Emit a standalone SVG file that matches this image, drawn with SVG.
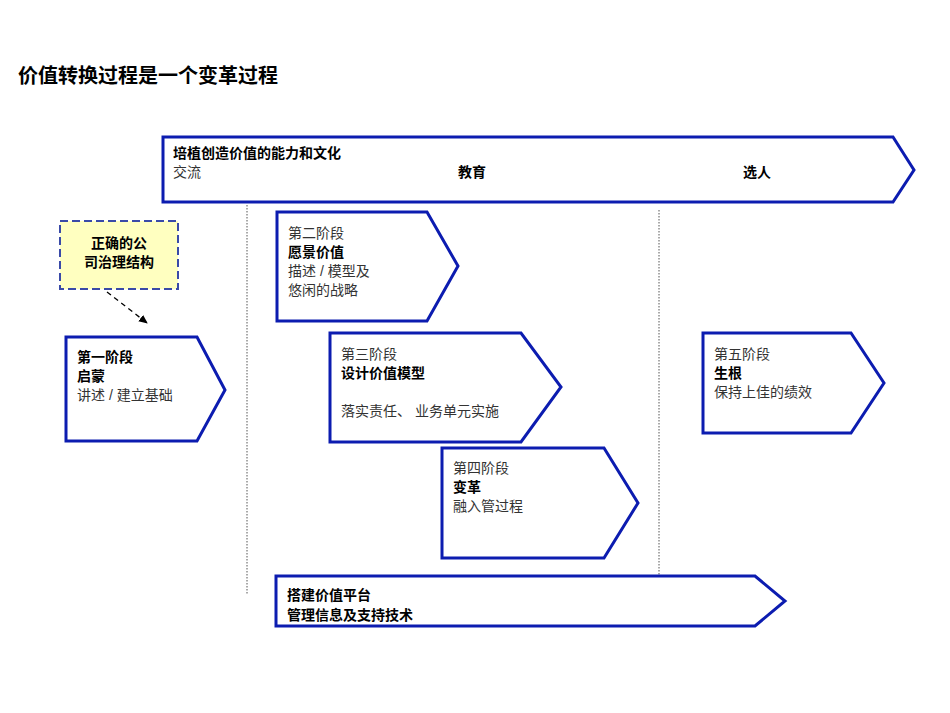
<svg xmlns="http://www.w3.org/2000/svg" width="950" height="713" viewBox="0 0 950 713">
<style>
text{font-family:"Liberation Sans","Noto Sans CJK SC",sans-serif;font-size:14px;fill:#333}
.b{font-weight:bold;fill:#000}
.s{fill:#fff;stroke:#0c1cb0;stroke-width:3}
</style>
<defs><marker id="ar" markerWidth="10" markerHeight="10" refX="8" refY="5" orient="auto" markerUnits="userSpaceOnUse"><path d="M0,1 L9,5 L0,9 z" fill="#000"/></marker></defs>
<rect width="950" height="713" fill="#fff"/>
<text x="18" y="83" class="b" style="font-size:20px">价值转换过程是一个变革过程</text>
<g id="banner"><polygon class="s" points="163,137 893,137 914,170 893,202 163,202"/>
<text x="173" y="158" class="b">培植创造价值的能力和文化</text><text x="173" y="177">交流</text>
<text x="458" y="177" class="b">教育</text><text x="743" y="177" class="b">选人</text></g>
<g id="connectors">
<line x1="247" y1="205" x2="247" y2="595" stroke="#555" stroke-dasharray="1.5,1.5"/>
<line x1="659" y1="210" x2="659" y2="575" stroke="#555" stroke-dasharray="1.5,1.5"/>
<line x1="107" y1="292" x2="147" y2="323" stroke="#000" stroke-width="1.3" stroke-dasharray="5,4" marker-end="url(#ar)"/>
</g>
<g id="gov"><rect x="60" y="221" width="118" height="68" fill="#ffffc0" stroke="#3a4aa8" stroke-width="2" stroke-dasharray="8,4"/>
<text x="119" y="248" class="b" text-anchor="middle">正确的公</text><text x="119" y="267" class="b" text-anchor="middle">司治理结构</text></g>
<g id="s1"><polygon class="s" points="66,337 197,337 225,390 197,441 66,441"/>
<text x="77" y="362" class="b">第一阶段</text><text x="77" y="381" class="b">启蒙</text><text x="77" y="400">讲述 / 建立基础</text></g>
<g id="s2"><polygon class="s" points="277,212 427,212 458,266 427,321 277,321"/>
<text x="288" y="238">第二阶段</text><text x="288" y="257" class="b">愿景价值</text><text x="288" y="276">描述 / 模型及</text><text x="288" y="295">悠闲的战略</text></g>
<g id="s3"><polygon class="s" points="330,333 521,333 561,387 521,442 330,442"/>
<text x="341" y="359">第三阶段</text><text x="341" y="378" class="b">设计价值模型</text><text x="341" y="416">落实责任、 业务单元实施</text></g>
<g id="s4"><polygon class="s" points="442,448 604,448 638,503 604,558 442,558"/>
<text x="453" y="473">第四阶段</text><text x="453" y="492" class="b">变革</text><text x="453" y="511">融入管过程</text></g>
<g id="s5"><polygon class="s" points="703,333 851,333 884,383 851,433 703,433"/>
<text x="714" y="359">第五阶段</text><text x="714" y="378" class="b">生根</text><text x="714" y="397">保持上佳的绩效</text></g>
<g id="platform"><polygon class="s" points="276,576 755,576 785,601 755,626 276,626"/>
<text x="287" y="600" class="b">搭建价值平台</text><text x="287" y="620" class="b">管理信息及支持技术</text></g>
</svg>
